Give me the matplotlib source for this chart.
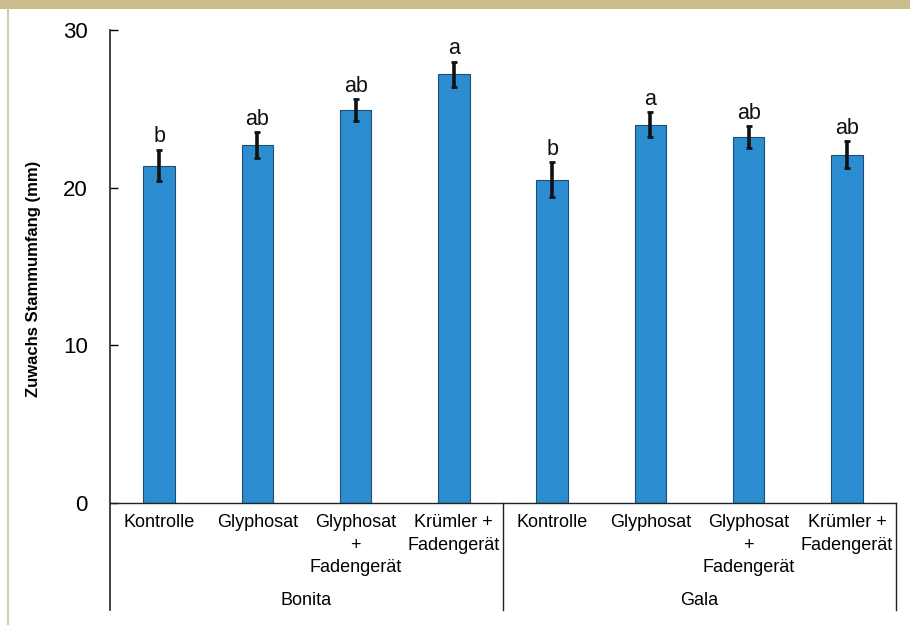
import matplotlib.pyplot as plt
from matplotlib.patches import Rectangle
from matplotlib.lines import Line2D

plt.rcParams["font.family"] = ["Liberation Sans", "DejaVu Sans"]

# ----------------------------------------------------------------------------
# Data
groups = ["Bonita", "Gala"]
treatments = ["Kontrolle", "Glyphosat", "Glyphosat\n+\nFadengerät", "Krümler +\nFadengerät"]
values = [21.4, 22.7, 24.9, 27.2, 20.5, 24.0, 23.2, 22.1]
errors = [1.0, 0.8, 0.7, 0.8, 1.1, 0.8, 0.7, 0.85]
letters = ["b", "ab", "ab", "a", "b", "a", "ab", "ab"]

bar_color = "#2b8dd0"
edge_color = "#1c4d78"

# ----------------------------------------------------------------------------
fig = plt.figure(figsize=(9.1, 6.25), dpi=100)
fig.patch.set_facecolor("white")

# scanned page border
fig.patches.append(Rectangle((0, 1 - 9 / 625), 1, 9 / 625, transform=fig.transFigure,
                             facecolor="#cbbd8d", edgecolor="none", zorder=0))
fig.lines.append(Line2D([8 / 910, 8 / 910], [0, 1 - 9 / 625], transform=fig.transFigure,
                        color="#d3cfa6", lw=1.5))

ax = fig.add_axes([110 / 910, 1 - 503 / 625, 786 / 910, 473 / 625])

x = list(range(len(values)))
ax.bar(x, values, width=0.32, color=bar_color, edgecolor=edge_color, linewidth=0.8, zorder=2)
ax.errorbar(x, values, yerr=errors, fmt="none", ecolor="#111111", elinewidth=2.6,
            capsize=2.5, capthick=2, zorder=3)

for xi, v, e, lab in zip(x, values, errors, letters):
    ax.text(xi, v + e + 0.15, lab, ha="center", va="bottom", fontsize=15.5, color="#111111")

ax.set_xlim(-0.5, len(values) - 0.5)
ax.set_ylim(0, 30)
ax.set_yticks([0, 10, 20, 30])
ax.tick_params(axis="y", direction="in", length=6, width=1, labelsize=16, pad=16)
ax.set_xticks([])
ax.set_ylabel("Zuwachs Stammumfang (mm)", fontsize=12, fontweight="bold")
ax.yaxis.set_label_coords(-0.088, 0.474)

for side in ["top", "right", "left", "bottom"]:
    ax.spines[side].set_visible(False)

# axis lines and group box below the bars
trans = ax.get_xaxis_transform()
ax.plot([-0.5, 7.5], [0, 0], color="#222222", lw=1, transform=trans, clip_on=False)
ax.plot([-0.5, -0.5], [1, -0.226], color="#222222", lw=1.2, transform=trans, clip_on=False)
for sep in [3.5, 7.5]:
    ax.plot([sep, sep], [0, -0.226], color="#222222", lw=1, transform=trans, clip_on=False)

# category labels
for i in range(len(values)):
    ax.text(i, -0.024, treatments[i % 4], ha="center", va="top", fontsize=13,
            linespacing=1.4, transform=trans)

for g, name in enumerate(groups):
    ax.text(1.5 + 4 * g, -0.207, name, ha="center", va="center", fontsize=13, transform=trans)

plt.savefig("out.png", dpi=100)
